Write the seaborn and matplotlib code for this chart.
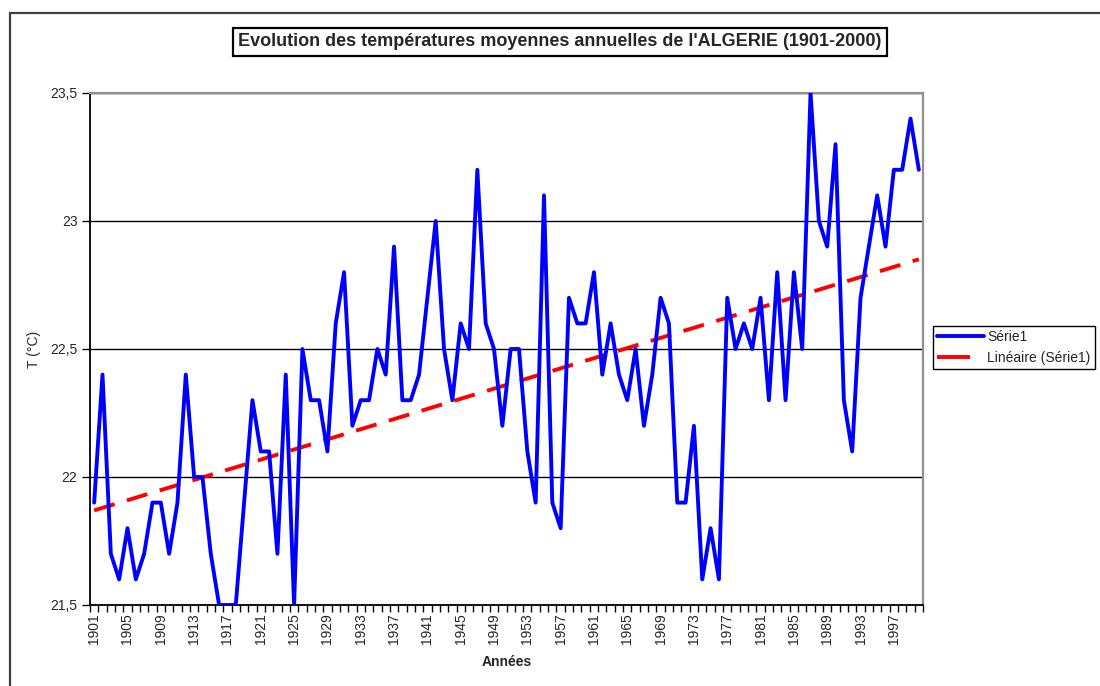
import numpy as np
import pandas as pd
import matplotlib
matplotlib.use("Agg")
import matplotlib.pyplot as plt
import seaborn as sns
from matplotlib.lines import Line2D
from matplotlib.patches import Rectangle

sns.set_style("white")
plt.rcParams['font.family'] = ['Liberation Sans', 'DejaVu Sans']

# Données (températures moyennes annuelles, °C)
annees = list(range(1901, 2001))
temperatures = [
    21.9, 22.4, 21.7, 21.6, 21.8, 21.6, 21.7, 21.9, 21.9, 21.7,  # 1901-1910
    21.9, 22.4, 22.0, 22.0, 21.7, 21.5, 21.5, 21.5, 21.9, 22.3,  # 1911-1920
    22.1, 22.1, 21.7, 22.4, 21.5, 22.5, 22.3, 22.3, 22.1, 22.6,  # 1921-1930
    22.8, 22.2, 22.3, 22.3, 22.5, 22.4, 22.9, 22.3, 22.3, 22.4,  # 1931-1940
    22.7, 23.0, 22.5, 22.3, 22.6, 22.5, 23.2, 22.6, 22.5, 22.2,  # 1941-1950
    22.5, 22.5, 22.1, 21.9, 23.1, 21.9, 21.8, 22.7, 22.6, 22.6,  # 1951-1960
    22.8, 22.4, 22.6, 22.4, 22.3, 22.5, 22.2, 22.4, 22.7, 22.6,  # 1961-1970
    21.9, 21.9, 22.2, 21.6, 21.8, 21.6, 22.7, 22.5, 22.6, 22.5,  # 1971-1980
    22.7, 22.3, 22.8, 22.3, 22.8, 22.5, 23.5, 23.0, 22.9, 23.3,  # 1981-1990
    22.3, 22.1, 22.7, 22.9, 23.1, 22.9, 23.2, 23.2, 23.4, 23.2,  # 1991-2000
]
ticks_y = [21.5, 22.0, 22.5, 23.0, 23.5]
labels_y = ["21,5", "22", "22,5", "23", "23,5"]
ticks_x = list(range(1901, 2001, 4))

titre = "Evolution des températures moyennes annuelles de l'ALGERIE (1901-2000)"
nom_serie = "Série1"
nom_tendance = "Linéaire (Série1)"

df = pd.DataFrame({'annee': annees, 'temp': temperatures})

# Courbe de tendance linéaire (moindres carrés)
pente, origine = np.polyfit(df['annee'], df['temp'], 1)
df['tendance'] = pente * df['annee'] + origine

fig = plt.figure(figsize=(11, 6.86), dpi=100)
ax = fig.add_axes([90 / 1100, 1 - 605 / 686, 833 / 1100, 512 / 686])

sns.lineplot(data=df, x='annee', y='tendance', color='#FF0000', linewidth=2.8,
             linestyle=(0, (5.5, 3.3)), ax=ax, zorder=3)
sns.lineplot(data=df, x='annee', y='temp', color='#0000FF', linewidth=2.8,
             ax=ax, zorder=4)

ax.set_xlim(1900.5, 2000.5)
ax.set_ylim(21.5, 23.5)
ax.set_yticks(ticks_y)
ax.set_yticklabels(labels_y, fontsize=10)
ax.set_xticks(ticks_x)
ax.set_xticklabels([str(a) for a in ticks_x], rotation=90, fontsize=10)
ax.set_xticks(np.arange(1900.5, 2001, 1), minor=True)
ax.tick_params(axis='x', which='major', length=0, pad=6)
ax.tick_params(axis='x', which='minor', length=5, width=1, direction='out',
               color='black', bottom=True)
ax.tick_params(axis='y', which='major', length=6, width=1, direction='out',
               color='black', left=True, pad=3)

ax.yaxis.grid(True, color='black', linewidth=1)
ax.set_axisbelow(True)

for cote in ['left', 'bottom']:
    ax.spines[cote].set_color('black')
    ax.spines[cote].set_linewidth(1.3)
for cote in ['top', 'right']:
    ax.spines[cote].set_color('#909090')
    ax.spines[cote].set_linewidth(1.6)

ax.set_xlabel("Années", fontsize=10, fontweight='bold', labelpad=8)
ax.set_ylabel("T (°C)", fontsize=10, labelpad=7)
if ax.get_legend():
    ax.get_legend().remove()

# Titre encadré
fig.text(560 / 1100, 1 - 42 / 686, titre, ha='center', va='center',
         fontsize=13, fontweight='bold',
         bbox=dict(boxstyle='square,pad=0.3', fc='white', ec='black', lw=1.6))

# Cadre de la zone de graphique
fig.patches.append(Rectangle((10 / 1100, -0.5), 2, 0.5 + (1 - 13 / 686),
                             transform=fig.transFigure, fill=False,
                             ec='#404040', lw=1.6))

# Légende
poignees = [
    Line2D([], [], color='#0000FF', lw=2.8),
    Line2D([], [], color='#FF0000', lw=2.8, linestyle=(0, (8.5, 30))),
]
fig.legend(poignees, [nom_serie, nom_tendance], loc='upper left',
           bbox_to_anchor=(933 / 1100, 1 - 326 / 686), fontsize=10,
           frameon=True, fancybox=False, edgecolor='black', framealpha=1,
           handlelength=3.4, handletextpad=0.2, borderpad=0.3,
           labelspacing=0.5, borderaxespad=0)

fig.savefig("out.png", dpi=100)
